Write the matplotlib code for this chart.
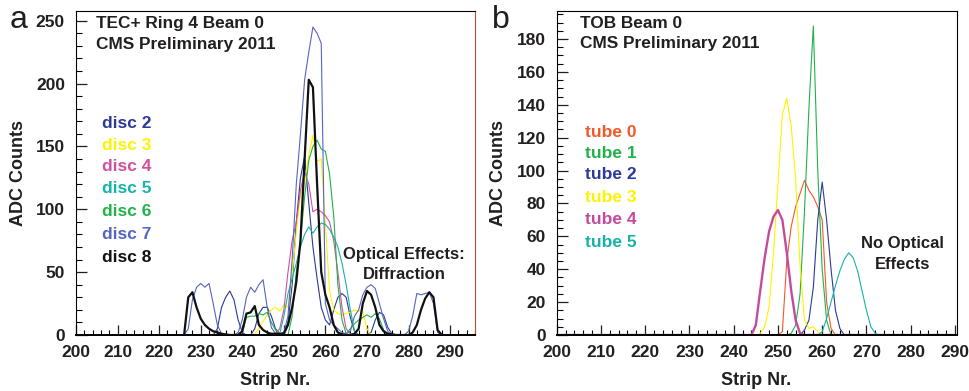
import numpy as np
from matplotlib import pyplot as plt
from matplotlib.ticker import MultipleLocator

plt.rcParams['font.family'] = ['Liberation Sans', 'DejaVu Sans']
plt.rcParams['font.weight'] = 'bold'
plt.rcParams['axes.linewidth'] = 0.8

textColor = "#231f20"

# ---- panel a: TEC+ ring 4, beam 0 (strips 226..288)
disc_strips = np.arange(226, 289)
disc_names = ["disc 2", "disc 3", "disc 4", "disc 5", "disc 6", "disc 7", "disc 8"]
disc_colors = ["#2b3a97", "#fff200", "#d14f9f", "#15b3a8", "#21b24b", "#5566c0", "#111111"]

disc2 = [0, 0, 0, 0, 0, 0, 0, 0, 5, 22,
         30, 35, 28, 12, 2, 0, 0, 5, 17, 22,
         22, 15, 5, 1, 2, 10, 40, 90, 125, 142,
         105, 70, 45, 22, 12, 8, 20, 30, 33, 30,
         14, 3, 0, 0, 0, 2, 12, 18, 16, 6,
         1, 0, 0, 0, 0, 0, 0, 0, 0, 0,
         0, 0, 0]
disc3 = [0, 0, 0, 0, 0, 0, 0, 0, 0, 0,
         0, 0, 0, 0, 0, 0, 0, 1, 5, 11,
         16, 20, 22, 19, 24, 22, 48, 82, 112, 122,
         143, 159, 138, 140, 88, 35, 20, 17, 16, 17,
         18, 20, 19, 18, 5, 0, 0, 0, 0, 0,
         0, 0, 0, 0, 0, 0, 0, 0, 0, 0,
         0, 0, 0]
disc4 = [0, 0, 0, 0, 0, 0, 0, 0, 0, 0,
         0, 0, 0, 0, 0, 0, 0, 0, 0, 0,
         0, 0, 1, 5, 20, 50, 75, 90, 115, 130,
         120, 98, 100, 98, 95, 90, 75, 50, 22, 5,
         1, 0, 0, 0, 0, 0, 0, 0, 0, 0,
         0, 0, 0, 0, 0, 0, 0, 0, 0, 0,
         0, 0, 0]
disc5 = [0, 0, 0, 0, 0, 0, 0, 0, 0, 0,
         0, 0, 0, 0, 0, 0, 0, 0, 0, 0,
         0, 0, 0, 1, 15, 33, 45, 57, 70, 80,
         86, 81, 86, 89, 88, 84, 78, 70, 57, 40,
         20, 3, 0, 0, 0, 0, 0, 0, 0, 0,
         0, 0, 0, 0, 0, 0, 0, 0, 0, 0,
         0, 0, 0]
disc6 = [0, 0, 0, 0, 0, 0, 0, 0, 0, 0,
         0, 0, 0, 0, 2, 14, 15, 15, 17, 16,
         18, 10, 4, 1, 0, 0, 15, 50, 75, 110,
         139, 150, 155, 148, 146, 128, 95, 40, 12, 1,
         5, 9, 12, 14, 16, 14, 17, 13, 4, 0,
         0, 0, 0, 0, 0, 0, 0, 0, 0, 0,
         0, 0, 0]
disc7 = [0, 5, 28, 38, 41, 38, 41, 25, 8, 1,
         0, 0, 0, 2, 12, 30, 38, 34, 40, 44,
         22, 6, 1, 0, 2, 15, 60, 120, 160, 203,
         225, 245, 240, 232, 25, 12, 8, 5, 2, 1,
         3, 15, 20, 32, 38, 40, 37, 25, 13, 3,
         0, 0, 0, 0, 3, 15, 33, 32, 33, 34,
         25, 2, 0]
disc8 = [0, 30, 34, 22, 13, 8, 5, 3, 2, 1,
         0.5, 0, 0, 0, 3, 17, 18, 23, 8, 4,
         2, 1, 1, 1, 1, 8, 22, 42, 75, 140,
         203, 197, 120, 50, 32, 22, 8, 2, 0.5, 0,
         0, 1, 5, 25, 35, 32, 22, 8, 3, 1,
         0.5, 0, 0, 0, 0, 2, 8, 20, 29, 34,
         30, 4, 0]
disc_values = [disc2, disc3, disc4, disc5, disc6, disc7, disc8]

# ---- panel b: TOB beam 0 (strips 200..290, only the peaks are non zero)
tube_strips = np.arange(200, 291)
tube_names = ["tube 0", "tube 1", "tube 2", "tube 3", "tube 4", "tube 5"]
tube_colors = ["#f05a28", "#21b24b", "#2b3a97", "#fff200", "#c54a9e", "#15b3a8"]
tube_start = [250, 252, 255, 245, 244, 259]
tube0 = [0, 2, 45, 66, 78, 86, 94, 88, 84, 78, 70, 20, 4, 0]
tube1 = [0, 1, 6, 25, 75, 138, 188, 100, 40, 9, 0]
tube2 = [0, 3, 9, 29, 70, 93, 70, 40, 15, 4, 0]
tube3 = [0, 1, 5, 17, 50, 92, 134, 144, 127, 95, 42, 9, 4, 5, 2, 0]
tube4 = [0, 6, 27, 47, 63, 72, 76, 70, 50, 27, 9, 1, 0]
tube5 = [0, 2, 10, 20, 30, 39, 46, 50, 47, 39, 27, 15, 5, 1, 0]
tube_peaks = [tube0, tube1, tube2, tube3, tube4, tube5]


def full_row(start, vals):
    row = np.zeros(len(tube_strips))
    i = start - tube_strips[0]
    row[i:i + len(vals)] = vals
    return row


def style_axis(ax, xlim, ylim, ymajor, yminor):
    ax.set_xlim(xlim)
    ax.set_ylim(ylim)
    ax.xaxis.set_major_locator(MultipleLocator(10))
    ax.xaxis.set_minor_locator(MultipleLocator(2))
    ax.yaxis.set_major_locator(MultipleLocator(ymajor))
    ax.yaxis.set_minor_locator(MultipleLocator(yminor))
    ax.tick_params(axis='y', which='major', direction='in', length=8, width=0.9,
                   labelsize=12.5, pad=8, colors=textColor)
    ax.tick_params(axis='y', which='minor', direction='in', length=4, width=0.8)
    ax.tick_params(axis='x', which='major', direction='in', length=7, width=0.9,
                   labelsize=12.5, pad=7, colors=textColor)
    ax.tick_params(axis='x', which='minor', direction='in', length=3.5, width=0.8)
    ax.spines['bottom'].set_linewidth(1.4)
    for lab in ax.get_xticklabels() + ax.get_yticklabels():
        lab.set_fontweight('bold')


fig = plt.figure(figsize=(9.7, 3.91), dpi=100)
axA = fig.add_axes([0.0784, 0.1432, 0.4113, 0.8286])
axB = fig.add_axes([0.5739, 0.1432, 0.4124, 0.8286])

# panel a
for name, vals, col in zip(disc_names, disc_values, disc_colors):
    lw = 1.6 if name == "disc 8" else 0.8
    axA.plot(disc_strips, vals, color=col, lw=lw, zorder=3 if name == "disc 8" else 2)
style_axis(axA, (200, 296), (0, 257.7), 50, 10)
axA.spines['right'].set_color("#b5532f")

axA.text(0.050, 0.963, "TEC+ Ring 4 Beam 0", transform=axA.transAxes, fontsize=12.4,
         va='center', ha='left', color=textColor)
axA.text(0.050, 0.898, "CMS Preliminary 2011", transform=axA.transAxes, fontsize=12.4,
         va='center', ha='left', color=textColor)
disc_y = [0.652, 0.584, 0.519, 0.452, 0.382, 0.311, 0.240]
for name, col, y in zip(disc_names, disc_colors, disc_y):
    axA.text(0.065, y, name, transform=axA.transAxes, fontsize=12.5, color=col,
             va='center', ha='left')
axA.text(0.822, 0.247, "Optical Effects:", transform=axA.transAxes, fontsize=12,
         ha='center', va='center', color=textColor)
axA.text(0.822, 0.187, "Diffraction", transform=axA.transAxes, fontsize=12,
         ha='center', va='center', color=textColor)

# panel b
for name, start, vals, col in zip(tube_names, tube_start, tube_peaks, tube_colors):
    lw = 1.7 if name == "tube 4" else 0.8
    axB.plot(tube_strips, full_row(start, vals), color=col, lw=lw)
style_axis(axB, (200, 290.4), (0, 197), 20, 5)

axB.text(0.058, 0.962, "TOB Beam 0", transform=axB.transAxes, fontsize=12.4,
         va='center', ha='left', color=textColor)
axB.text(0.058, 0.900, "CMS Preliminary 2011", transform=axB.transAxes, fontsize=12.4,
         va='center', ha='left', color=textColor)
tube_y = [0.626, 0.561, 0.495, 0.423, 0.355, 0.287]
for name, col, y in zip(tube_names, tube_colors, tube_y):
    axB.text(0.071, y, name, transform=axB.transAxes, fontsize=12.5, color=col,
             va='center', ha='left')
axB.text(0.865, 0.281, "No Optical", transform=axB.transAxes, fontsize=12,
         ha='center', va='center', color=textColor)
axB.text(0.865, 0.219, "Effects", transform=axB.transAxes, fontsize=12,
         ha='center', va='center', color=textColor)

# axis titles and panel letters
for x in (0.0186, 0.514):
    fig.text(x, 0.5575, "ADC Counts", rotation=90, fontsize=13, ha='center',
             va='center', color=textColor)
fig.text(0.2835, 0.026, "Strip Nr.", fontsize=13, ha='center', va='center', color=textColor)
fig.text(0.780, 0.028, "Strip Nr.", fontsize=13, ha='center', va='center', color=textColor)
fig.text(0.0103, 0.928, "a", fontsize=23, fontweight='normal', ha='left',
         va='baseline', color=textColor)
fig.text(0.507, 0.928, "b", fontsize=23, fontweight='normal', ha='left',
         va='baseline', color=textColor)

plt.savefig("out.png", dpi=100)
